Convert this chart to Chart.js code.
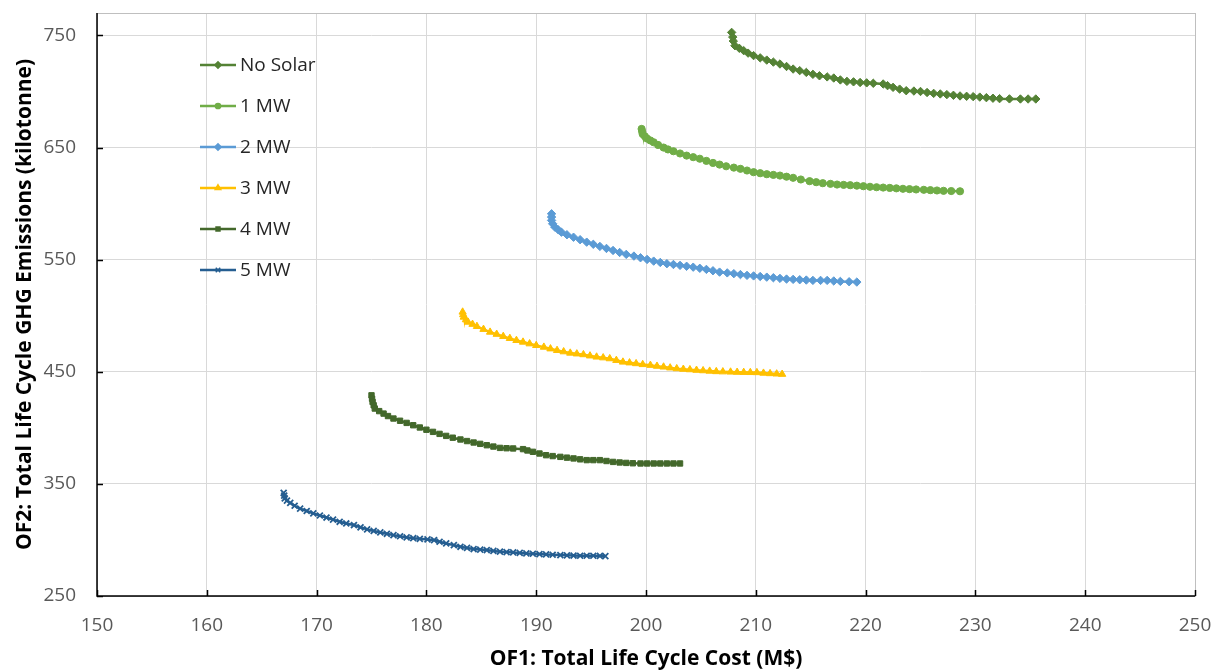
<!DOCTYPE html>
<html lang="en">
<head>
  <meta charset="utf-8">
  <title>Pareto Fronts</title>
  <script src="https://cdn.jsdelivr.net/npm/chart.js"></script>
  <style>
    body { margin: 0; background: #fff; }
    .wrap { width: 1213px; height: 670px; position: relative; }
  </style>
</head>
<body>
  <div class="wrap"><canvas id="pareto"></canvas></div>

  <script>
    // series names and colours
    const seriesNames = ['No Solar', '1 MW', '2 MW', '3 MW', '4 MW', '5 MW'];
    const seriesColors = ['#548235', '#70ad47', '#5b9bd5', '#ffc000', '#43682b', '#255e91'];
    const seriesMarkers = ['rectRot', 'circle', 'rectRot', 'triangle', 'rect', 'crossRot'];

    // axis ticks
    const xTicks = [150, 160, 170, 180, 190, 200, 210, 220, 230, 240, 250];
    const yTicks = [250, 350, 450, 550, 650, 750];

    // OF1 cost (M$) and OF2 emissions (kilotonne)
    const noSolarCost = [207.8, 207.9, 207.95, 208.1, 208.5, 208.9, 209.3, 209.8, 210.4, 211.0, 211.6, 212.2, 212.8, 213.4, 214.0, 214.6, 215.2, 215.8, 216.5, 217.1, 217.7, 218.3, 218.9, 219.5, 220.1, 220.7, 221.6, 222.0, 222.5, 223.1, 223.7, 224.4, 225.0, 225.6, 226.2, 226.8, 227.4, 228.0, 228.6, 229.2, 229.8, 230.4, 231.0, 231.6, 232.2, 233.1, 234.1, 234.8, 235.5];
    const noSolarGhg  = [752.7, 748.5, 745.0, 740.8, 738.5, 736.4, 734.2, 732.0, 730.0, 728.0, 726.2, 724.5, 722.3, 720.0, 718.6, 717.0, 715.3, 714.0, 713.0, 712.0, 710.3, 709.0, 708.6, 708.0, 707.7, 707.3, 706.7, 705.2, 703.7, 702.1, 700.7, 700.4, 700.0, 699.1, 698.3, 697.8, 697.2, 696.6, 696.0, 695.7, 695.4, 695.0, 694.5, 694.0, 693.6, 693.4, 693.3, 693.3, 693.3];

    const mw1Cost = [199.6, 199.65, 199.7, 199.9, 200.1, 200.4, 200.7, 201.1, 201.6, 202.0, 202.5, 203.1, 203.7, 204.3, 204.9, 205.5, 206.1, 206.7, 207.3, 208.0, 208.6, 209.2, 209.8, 210.4, 211.0, 211.6, 212.2, 212.8, 213.4, 214.1, 214.9, 215.5, 216.1, 216.8, 217.4, 218.0, 218.6, 219.2, 219.8, 220.4, 221.0, 221.6, 222.2, 222.8, 223.4, 224.0, 224.6, 225.3, 225.9, 226.5, 227.1, 227.8, 228.6];
    const mw1Ghg  = [666.6, 664.2, 662.0, 660.0, 658.0, 656.3, 654.7, 652.3, 650.0, 648.3, 646.7, 644.7, 642.8, 641.4, 640.0, 638.1, 636.3, 634.8, 633.3, 632.1, 631.0, 629.5, 628.0, 627.1, 626.2, 625.6, 625.0, 624.0, 623.0, 621.5, 620.0, 619.1, 618.2, 617.6, 617.0, 616.7, 616.4, 616.0, 615.5, 615.0, 614.6, 614.3, 614.0, 613.6, 613.2, 612.9, 612.6, 612.3, 612.0, 611.7, 611.4, 611.2, 611.0];

    const mw2Cost = [191.4, 191.4, 191.4, 191.5, 191.7, 192.0, 192.3, 192.8, 193.4, 194.0, 194.6, 195.2, 195.8, 196.4, 197.0, 197.6, 198.2, 198.9, 199.5, 200.1, 200.7, 201.3, 201.9, 202.5, 203.1, 203.7, 204.3, 204.9, 205.5, 206.1, 206.7, 207.4, 208.0, 208.6, 209.2, 209.8, 210.4, 211.0, 211.6, 212.2, 212.8, 213.4, 214.0, 214.6, 215.2, 215.9, 216.5, 217.1, 217.7, 218.5, 219.2];
    const mw2Ghg  = [590.9, 588.0, 585.0, 582.0, 579.0, 576.7, 574.5, 572.2, 570.0, 567.8, 565.6, 563.7, 561.8, 560.0, 558.2, 556.4, 554.7, 553.2, 551.7, 550.2, 548.7, 547.5, 546.4, 545.7, 544.9, 544.1, 543.3, 542.3, 541.3, 540.1, 538.9, 538.2, 537.5, 536.7, 536.0, 535.5, 535.0, 534.4, 533.9, 533.3, 532.7, 532.4, 532.1, 531.8, 531.5, 531.5, 531.5, 531.0, 530.6, 530.3, 530.0];

    const mw3Cost = [183.3, 183.35, 183.4, 183.6, 183.8, 184.2, 184.6, 185.2, 185.8, 186.4, 187.0, 187.6, 188.2, 188.8, 189.4, 190.0, 190.7, 191.3, 191.9, 192.5, 193.1, 193.7, 194.3, 194.9, 195.5, 196.1, 196.7, 197.3, 197.9, 198.5, 199.1, 199.7, 200.4, 201.0, 201.6, 202.2, 202.8, 203.4, 204.0, 204.6, 205.2, 205.8, 206.4, 207.0, 207.7, 208.3, 208.9, 209.5, 210.1, 210.7, 211.3, 211.9, 212.4];
    const mw3Ghg  = [503.3, 501.0, 498.8, 496.5, 494.3, 492.4, 490.5, 487.9, 485.4, 483.5, 481.6, 479.8, 478.0, 476.5, 475.0, 473.5, 472.0, 470.5, 469.1, 467.9, 466.7, 466.0, 465.3, 464.2, 463.2, 462.5, 461.7, 460.2, 458.7, 458.0, 457.3, 456.5, 455.8, 455.0, 454.3, 453.5, 452.8, 452.3, 451.9, 451.4, 451.0, 450.6, 450.2, 450.0, 449.8, 449.6, 449.5, 449.4, 449.3, 448.8, 448.4, 448.1, 447.8];

    const mw4Cost = [175.0, 175.05, 175.1, 175.2, 175.3, 175.7, 176.1, 176.5, 177.0, 177.6, 178.2, 178.8, 179.4, 180.0, 180.6, 181.2, 181.8, 182.4, 183.1, 183.7, 184.3, 184.9, 185.5, 186.1, 186.7, 187.3, 187.9, 188.8, 189.2, 189.7, 190.3, 190.9, 191.5, 192.2, 192.8, 193.4, 194.0, 194.6, 195.2, 195.8, 196.4, 197.0, 197.6, 198.2, 198.8, 199.5, 200.1, 200.7, 201.3, 201.9, 202.5, 203.1];
    const mw4Ghg  = [429.0, 426.0, 423.1, 420.1, 417.2, 414.9, 412.7, 410.5, 408.3, 406.3, 404.4, 402.3, 400.3, 398.3, 396.4, 394.6, 392.8, 391.2, 389.6, 388.2, 386.9, 385.7, 384.5, 383.3, 382.1, 381.8, 381.6, 381.0, 379.8, 378.6, 377.1, 375.6, 374.8, 374.1, 373.4, 372.7, 371.9, 371.2, 371.2, 371.2, 370.4, 369.6, 369.1, 368.7, 368.4, 368.2, 368.2, 368.2, 368.2, 368.2, 368.2, 368.2];

    const mw5Cost = [167.0, 167.05, 167.1, 167.3, 167.6, 168.0, 168.5, 169.1, 169.7, 170.3, 170.9, 171.5, 172.1, 172.7, 173.4, 174.0, 174.6, 175.2, 175.8, 176.4, 177.0, 177.6, 178.2, 178.8, 179.4, 180.1, 180.7, 181.2, 181.8, 182.5, 183.1, 183.7, 184.3, 184.9, 185.5, 186.1, 186.7, 187.3, 187.9, 188.5, 189.1, 189.7, 190.3, 190.9, 191.5, 192.2, 192.8, 193.4, 194.0, 194.6, 195.2, 195.8, 196.3];
    const mw5Ghg  = [342.0, 339.5, 337.0, 335.0, 333.1, 330.5, 328.0, 325.8, 323.7, 321.8, 320.0, 318.1, 316.2, 314.7, 313.3, 311.3, 309.4, 308.0, 306.7, 305.5, 304.3, 303.3, 302.3, 301.6, 301.0, 300.5, 299.9, 298.4, 296.9, 295.4, 293.9, 292.9, 291.9, 291.4, 291.0, 290.2, 289.5, 289.2, 288.9, 288.4, 288.0, 287.7, 287.4, 287.1, 286.8, 286.5, 286.3, 286.1, 285.9, 285.9, 285.9, 285.7, 285.6];

    const costs = [noSolarCost, mw1Cost, mw2Cost, mw3Cost, mw4Cost, mw5Cost];
    const ghgs = [noSolarGhg, mw1Ghg, mw2Ghg, mw3Ghg, mw4Ghg, mw5Ghg];

    const FONT = "'Open Sans', sans-serif";

    // frame: grey box, black left/bottom axes, inward tick marks
    const framePlugin = {
      id: 'frame',
      beforeDatasetsDraw(chart) {
        const ctx = chart.ctx;
        const a = chart.chartArea;
        const xs = chart.scales.x, ys = chart.scales.y;
        ctx.save();
        ctx.strokeStyle = '#bfbfbf';
        ctx.lineWidth = 1;
        ctx.strokeRect(a.left + 0.5, a.top + 0.5, a.right - a.left, a.bottom - a.top);
        ctx.strokeStyle = '#000';
        ctx.lineWidth = 1.5;
        ctx.beginPath();
        ctx.moveTo(a.left, a.top);
        ctx.lineTo(a.left, a.bottom);
        ctx.lineTo(a.right, a.bottom);
        xTicks.forEach(v => {
          const px = Math.round(xs.getPixelForValue(v)) + 0.5;
          ctx.moveTo(px, a.bottom);
          ctx.lineTo(px, a.bottom - 6);
        });
        yTicks.forEach(v => {
          const py = Math.round(ys.getPixelForValue(v)) + 0.5;
          ctx.moveTo(a.left, py);
          ctx.lineTo(a.left + 6, py);
        });
        ctx.stroke();
        ctx.restore();
      }
    };

    // legend drawn inside the plot area
    const legendPlugin = {
      id: 'insideLegend',
      afterDraw(chart) {
        const ctx = chart.ctx;
        ctx.save();
        chart.data.datasets.forEach((ds, i) => {
          const y = 65 + i * 41;
          ctx.strokeStyle = ds.borderColor;
          ctx.lineWidth = 2.5;
          ctx.beginPath();
          ctx.moveTo(200, y);
          ctx.lineTo(236, y);
          ctx.stroke();
          ctx.fillStyle = ds.pointBackgroundColor;
          ctx.strokeStyle = ds.pointBorderColor;
          ctx.lineWidth = 1.5;
          Chart.helpers.drawPoint(ctx, { pointStyle: ds.pointStyle, radius: ds.pointRadius - 1, rotation: 0, borderWidth: 1.5 }, 218, y);
          ctx.fillStyle = '#262626';
          ctx.font = '19px ' + FONT;
          ctx.textBaseline = 'middle';
          ctx.textAlign = 'left';
          ctx.fillText(ds.label, 240, y + 1);
        });
        ctx.restore();
      }
    };

    const datasets = seriesNames.map((name, i) => ({
      label: name,
      data: costs[i].map((c, j) => ({ x: c, y: ghgs[i][j] })),
      showLine: true,
      borderColor: seriesColors[i],
      backgroundColor: seriesColors[i],
      pointBackgroundColor: seriesColors[i],
      pointBorderColor: seriesColors[i],
      borderWidth: 2.5,
      pointStyle: seriesMarkers[i],
      pointRadius: seriesMarkers[i] === 'circle' ? 3.6 : (seriesMarkers[i] === 'rect' ? 3.8 : 4.2),
      pointBorderWidth: seriesMarkers[i] === 'crossRot' ? 1.8 : 1,
      tension: 0
    }));

    new Chart(document.getElementById('pareto'), {
      type: 'scatter',
      data: { datasets: datasets },
      options: {
        responsive: true,
        maintainAspectRatio: false,
        animation: false,
        layout: { padding: { top: 13, right: 18, left: 0, bottom: 0 } },
        plugins: {
          legend: { display: false },
          tooltip: { enabled: false }
        },
        scales: {
          x: {
            type: 'linear',
            min: 150,
            max: 250,
            afterBuildTicks: s => { s.ticks = xTicks.map(v => ({ value: v })); },
            afterFit: s => { s.height = 74; s.paddingLeft = 0; s.paddingRight = 0; },
            grid: { color: '#d9d9d9', drawTicks: false },
            border: { display: false },
            ticks: { color: '#595959', font: { family: FONT, size: 19 }, padding: 18, maxRotation: 0 },
            title: {
              display: true,
              text: 'OF1: Total Life Cycle Cost (M$)',
              color: '#000',
              font: { family: FONT, size: 21, weight: 'bold', lineHeight: 1 },
              padding: { top: 0, bottom: 0 }
            }
          },
          y: {
            type: 'linear',
            min: 250,
            max: 770,
            afterBuildTicks: s => { s.ticks = yTicks.map(v => ({ value: v })); },
            afterFit: s => { s.width = 97; s.paddingTop = 0; s.paddingBottom = 0; },
            grid: { color: '#d9d9d9', drawTicks: false },
            border: { display: false },
            ticks: { color: '#595959', font: { family: FONT, size: 19 }, padding: 21 },
            title: {
              display: true,
              text: 'OF2: Total Life Cycle GHG Emissions (kilotonne)',
              color: '#000',
              font: { family: FONT, size: 21, weight: 'bold', lineHeight: 1 },
              padding: { top: 15, bottom: 0 }
            }
          }
        }
      },
      plugins: [framePlugin, legendPlugin]
    });
  </script>
</body>
</html>
